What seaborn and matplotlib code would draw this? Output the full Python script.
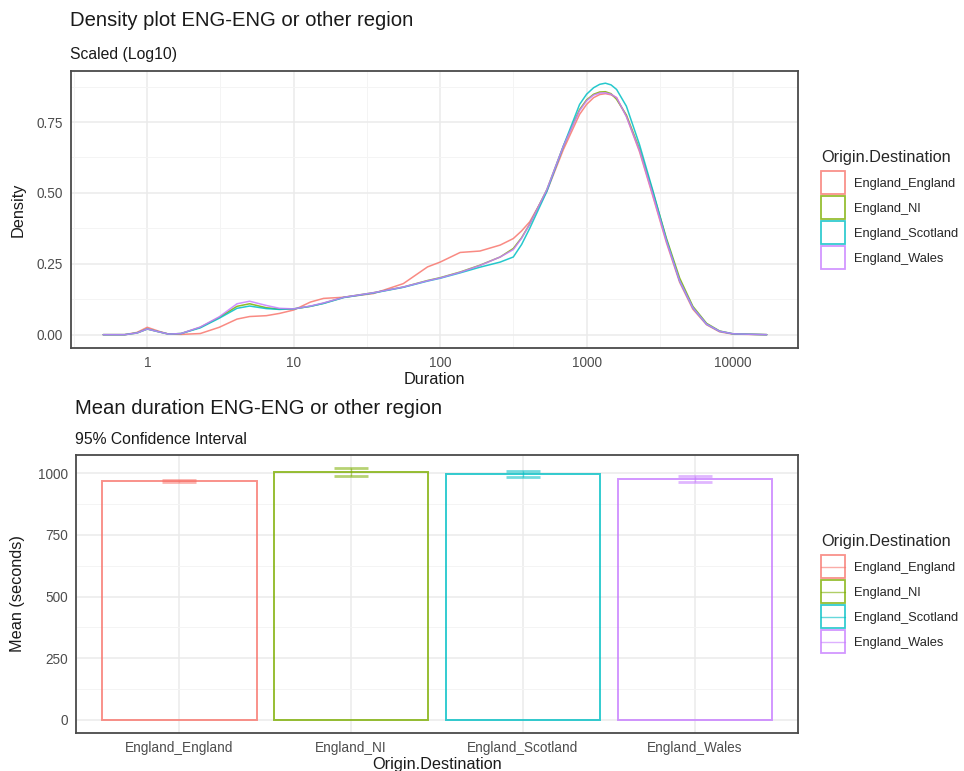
import numpy as np
import pandas as pd
import matplotlib
matplotlib.use("Agg")
import matplotlib.pyplot as plt
from matplotlib.patches import Rectangle
from matplotlib.lines import Line2D
from matplotlib.ticker import FixedLocator, NullFormatter, FixedFormatter
import seaborn as sns

# ---------------- data ----------------
categories = ["England_England", "England_NI", "England_Scotland", "England_Wales"]
colors = ["#F8766D", "#7CAE00", "#00BFC4", "#C77CFF"]

duration = [0.5, 0.7, 0.85, 1.0, 1.2, 1.4, 1.7, 2.3, 3.1, 4.1, 5.0, 6.5, 8, 10, 13, 16,
            22, 35, 56, 82, 100, 137, 187, 257, 316, 360, 409, 535, 693, 896, 1000, 1117,
            1230, 1345, 1470, 1603, 1870, 2300, 2830, 3510, 4320, 5320, 6600, 8100, 10000,
            17000]

dens_england = [0, 0, 0.008, 0.026, 0.012, 0.002, 0.001, 0.004, 0.026, 0.055, 0.064, 0.067,
                0.075, 0.087, 0.115, 0.128, 0.132, 0.145, 0.180, 0.239, 0.256, 0.290, 0.295,
                0.316, 0.339, 0.366, 0.398, 0.505, 0.652, 0.777, 0.812, 0.836, 0.847, 0.850,
                0.846, 0.836, 0.770, 0.645, 0.490, 0.325, 0.185, 0.090, 0.035, 0.010, 0.002, 0]
dens_ni = [0, 0, 0.006, 0.020, 0.010, 0.002, 0.004, 0.026, 0.061, 0.100, 0.109, 0.095,
           0.090, 0.091, 0.100, 0.111, 0.132, 0.148, 0.168, 0.191, 0.201, 0.221, 0.245,
           0.274, 0.304, 0.342, 0.390, 0.511, 0.664, 0.794, 0.828, 0.848, 0.856, 0.857,
           0.850, 0.830, 0.775, 0.655, 0.505, 0.340, 0.200, 0.100, 0.040, 0.013, 0.003, 0]
dens_scotland = [0, 0, 0.006, 0.020, 0.010, 0.002, 0.004, 0.024, 0.058, 0.093, 0.101, 0.092,
                 0.089, 0.091, 0.100, 0.110, 0.131, 0.147, 0.167, 0.189, 0.199, 0.218, 0.238,
                 0.256, 0.274, 0.318, 0.375, 0.505, 0.664, 0.812, 0.848, 0.871, 0.883, 0.887,
                 0.881, 0.865, 0.806, 0.670, 0.510, 0.335, 0.190, 0.095, 0.037, 0.012, 0.003, 0]
dens_wales = [0, 0, 0.006, 0.020, 0.010, 0.002, 0.004, 0.027, 0.063, 0.109, 0.118, 0.103,
              0.093, 0.091, 0.101, 0.112, 0.132, 0.148, 0.168, 0.190, 0.200, 0.220, 0.244,
              0.274, 0.300, 0.340, 0.390, 0.511, 0.664, 0.790, 0.825, 0.845, 0.852, 0.853,
              0.848, 0.836, 0.770, 0.650, 0.495, 0.330, 0.190, 0.095, 0.037, 0.012, 0.003, 0]

mean_duration = [969, 1005, 998, 977]
ci_half = [2.5, 14.5, 11.5, 13.5]

x_ticks_top = [1, 10, 100, 1000, 10000]
y_ticks_top = [0.0, 0.25, 0.5, 0.75]
y_ticks_bot = [0, 250, 500, 750, 1000]

# ---------------- style ----------------
sns.set_style("white")
plt.rcParams["font.family"] = ["Liberation Sans", "DejaVu Sans"]

W, H = 964, 771
fig = plt.figure(figsize=(W / 100, H / 100), dpi=100)

def fx(px):
    return px / W

def fy(py):
    return 1 - py / H

tick_col = "#4D4D4D"
text_col = "#1A1A1A"
grid_major = "#EBEBEB"
grid_minor = "#F4F4F4"
border_col = "#4A4A4A"

TICK_FS = 9.8
AXLAB_FS = 11.7
TITLE_FS = 14.6
SUB_FS = 11.3
LEG_FS = 9.3
LEG_TITLE_FS = 11.7

def style_axes(ax):
    for s in ax.spines.values():
        s.set_color(border_col)
        s.set_linewidth(1.3)
    ax.tick_params(axis="both", which="major", length=3, width=0.8, color="#333333",
                   labelsize=TICK_FS, labelcolor=tick_col, pad=3, direction="out")
    ax.tick_params(axis="both", which="minor", length=0)
    ax.grid(True, which="major", color=grid_major, linewidth=1.1)
    ax.grid(True, which="minor", color=grid_minor, linewidth=0.7)
    ax.set_axisbelow(True)

class BarErrKey:
    def __init__(self, color):
        self.color = color

class BarErrHandler:
    def __init__(self, with_line):
        self.with_line = with_line

    def legend_artist(self, legend, orig_handle, fontsize, handlebox):
        x0, y0 = -handlebox.xdescent, -handlebox.ydescent
        w, h = handlebox.width, handlebox.height
        c = orig_handle.color
        tr = handlebox.get_transform()
        rect = Rectangle((x0, y0), w, h, facecolor="white", edgecolor=c,
                         linewidth=1.3, alpha=0.8, transform=tr)
        handlebox.add_artist(rect)
        if self.with_line:
            ln = Line2D([x0, x0 + w], [y0 + h / 2, y0 + h / 2], color=c,
                        linewidth=1.0, alpha=0.6, transform=tr)
            handlebox.add_artist(ln)
        return rect

# fontsize 9.3pt -> 12.9px ; box 24x23 px
LEG_KW = dict(title="Origin.Destination", loc="upper left", frameon=False,
              fontsize=LEG_FS, title_fontsize=LEG_TITLE_FS, handlelength=1.86,
              handleheight=2.36, labelspacing=0.16, handletextpad=0.72, borderpad=0,
              borderaxespad=0, alignment="left")

def make_legend(anchor_y, with_line):
    leg = fig.legend([BarErrKey(c) for c in colors], categories,
                     bbox_to_anchor=(fx(821), fy(anchor_y)),
                     handler_map={BarErrKey: BarErrHandler(with_line)}, **LEG_KW)
    leg._legend_box.sep = 4.5
    return leg

# ---------------- top: density ----------------
ax1 = fig.add_axes([fx(71), fy(348), fx(798) - fx(71), fy(71) - fy(348)])
rows = []
for cat, dens in zip(categories, [dens_england, dens_ni, dens_scotland, dens_wales]):
    for d, v in zip(duration, dens):
        rows.append({"Duration": d, "Density": v, "Origin.Destination": cat})
df_dens = pd.DataFrame(rows)
sns.lineplot(data=df_dens, x="Duration", y="Density", hue="Origin.Destination",
             hue_order=categories, palette=colors, linewidth=1.1, alpha=0.85,
             legend=False, ax=ax1, sort=True)
ax1.set_xscale("log")
ax1.set_xlim(10 ** -0.521, 10 ** 4.444)
ax1.set_ylim(-0.047, 0.93)
ax1.xaxis.set_major_locator(FixedLocator(x_ticks_top))
ax1.xaxis.set_major_formatter(FixedFormatter([str(t) for t in x_ticks_top]))
ax1.xaxis.set_minor_locator(FixedLocator([10 ** (k + 0.5) for k in range(-1, 5)]))
ax1.xaxis.set_minor_formatter(NullFormatter())
ax1.yaxis.set_major_locator(FixedLocator(y_ticks_top))
ax1.yaxis.set_major_formatter(FixedFormatter([f"{t:.2f}" for t in y_ticks_top]))
ax1.yaxis.set_minor_locator(FixedLocator([0.125, 0.375, 0.625, 0.875]))
style_axes(ax1)
ax1.set_xlabel("Duration", fontsize=AXLAB_FS, color=text_col)
ax1.set_ylabel("Density", fontsize=AXLAB_FS, color=text_col)
ax1.xaxis.set_label_coords(0.5, -0.088)
ax1.yaxis.set_label_coords(-0.062, 0.5)

fig.text(fx(70), fy(20), "Density plot ENG-ENG or other region", fontsize=TITLE_FS,
         ha="left", va="center", color=text_col)
fig.text(fx(70), fy(55), "Scaled (Log10)", fontsize=SUB_FS, ha="left", va="center",
         color=text_col)

make_legend(150, False)

# ---------------- bottom: mean bars ----------------
ax2 = fig.add_axes([fx(76), fy(733), fx(798) - fx(76), fy(455) - fy(733)])
df_mean = pd.DataFrame({"Origin.Destination": categories, "Mean": mean_duration})
sns.barplot(data=df_mean, x="Origin.Destination", y="Mean", hue="Origin.Destination",
            hue_order=categories, order=categories, palette=colors, fill=False,
            width=0.9, errorbar=None, legend=False, linewidth=1.4, ax=ax2)
for p in ax2.patches:
    ec = p.get_edgecolor()
    p.set_edgecolor((ec[0], ec[1], ec[2], 0.8))
for i, (m, e, c) in enumerate(zip(mean_duration, ci_half, colors)):
    ax2.errorbar(i, m, yerr=e, fmt="none", ecolor=c, elinewidth=1.0, capsize=12.5,
                 capthick=2.0, alpha=0.55)
ax2.set_xlim(-0.6, 3.6)
ax2.set_ylim(-53, 1074)
ax2.yaxis.set_major_locator(FixedLocator(y_ticks_bot))
ax2.yaxis.set_major_formatter(FixedFormatter([str(t) for t in y_ticks_bot]))
ax2.yaxis.set_minor_locator(FixedLocator([125, 375, 625, 875]))
style_axes(ax2)
ax2.set_xlabel("Origin.Destination", fontsize=AXLAB_FS, color=text_col)
ax2.set_ylabel("Mean (seconds)", fontsize=AXLAB_FS, color=text_col)
ax2.xaxis.set_label_coords(0.5, -0.088)
ax2.yaxis.set_label_coords(-0.070, 0.5)

fig.text(fx(75), fy(408), "Mean duration ENG-ENG or other region", fontsize=TITLE_FS,
         ha="left", va="center", color=text_col)
fig.text(fx(75), fy(439), "95% Confidence Interval", fontsize=SUB_FS, ha="left",
         va="center", color=text_col)

make_legend(534, True)

fig.savefig("out.png", dpi=100, facecolor="white")
